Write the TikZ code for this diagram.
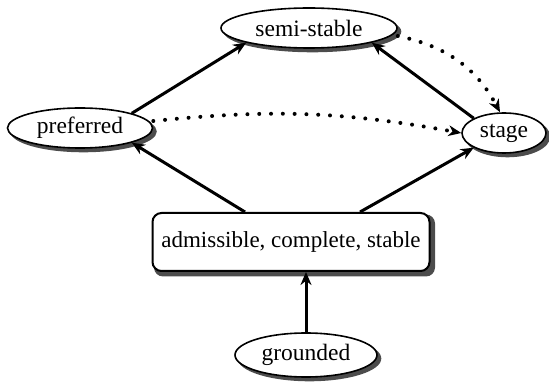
\documentclass[tikz,border=0pt]{standalone}
\usepackage{fontspec}
\setmainfont{Liberation Serif}
\usetikzlibrary{arrows.meta,backgrounds,shapes.geometric}
\begin{document}
\begin{tikzpicture}[x=1pt,y=1pt,
  shadowfill/.style={fill=black!70},
  ell/.style={ellipse,draw,line width=1.6pt,fill=white,inner sep=0pt,font=\fontsize{23.5}{25}\selectfont},
  boxn/.style={rectangle,rounded corners=9pt,draw,line width=2pt,fill=white,inner sep=0pt,font=\fontsize{23}{25}\selectfont},
  arr/.style={line width=3pt,-{Stealth[length=13pt,width=11pt]}},
  dotarr/.style={line width=4pt,line cap=round,dash pattern=on 0pt off 11.8pt,-{Stealth[length=13pt,width=11pt,line width=0pt]}}]
\useasboundingbox (0,0) rectangle (549,383);
\node[ell,minimum width=176pt,minimum height=40pt] (semi) at (309,355) {semi-stable};
\node[ell,minimum width=145pt,minimum height=40pt] (pref) at (80,255) {preferred};
\node[ell,minimum width=84pt,minimum height=40pt] (stage) at (504,250) {stage};
\node[boxn,minimum width=277pt,minimum height=58pt] (box) at (291,141) {admissible, complete, stable};
\node[ell,minimum width=142pt,minimum height=44pt] (grnd) at (306,28) {grounded};
\begin{scope}[on background layer]
\fill[shadowfill] ([shift={(3.5,-3.5)}]semi.center) ellipse [x radius=88.8, y radius=20.8];
\fill[shadowfill] ([shift={(3.5,-3.5)}]pref.center) ellipse [x radius=73.3, y radius=20.8];
\fill[shadowfill] ([shift={(3.5,-3.5)}]stage.center) ellipse [x radius=42.8, y radius=20.8];
\fill[shadowfill] ([shift={(3.5,-3.5)}]grnd.center) ellipse [x radius=71.8, y radius=22.8];
\fill[shadowfill,rounded corners=9pt] ([shift={(2.5,-4.5)}]box.south west) rectangle ([shift={(4.5,-2.5)}]box.north east);
\end{scope}
\draw[arr] ([xshift=-46pt]box.north) -- (pref.south east);
\draw[arr] ([xshift=69pt]box.north) -- (stage.south west);
\draw[arr] (pref.north east) -- (semi.south west);
\draw[arr] (stage.north west) -- (semi.south east);
\draw[arr] (grnd.north) -- (box.south -| grnd.north);
\draw[dotarr] ([yshift=7pt]pref.east) to[bend left=8] (stage.west);
\draw[dotarr] ([yshift=-8pt]semi.east) to[bend left=25] ([xshift=-4pt]stage.north);
\end{tikzpicture}
\end{document}
